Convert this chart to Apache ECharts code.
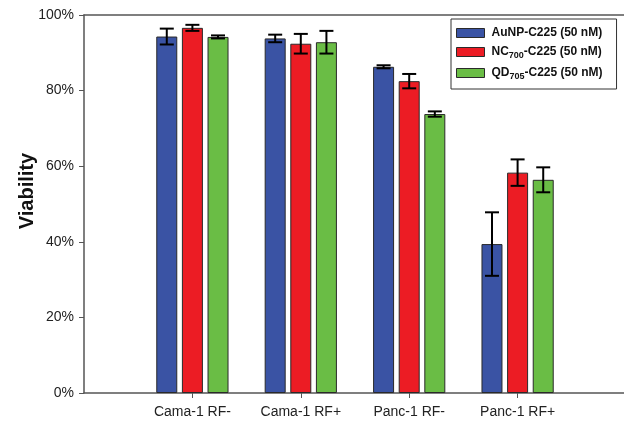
<!DOCTYPE html>
<html><head><meta charset="utf-8">
<script src="https://cdn.jsdelivr.net/npm/echarts@6/dist/echarts.min.js"></script>
<style>html,body{margin:0;padding:0;background:#fff}#c{width:624px;height:424px}</style>
</head><body><div id="c"></div>
<script>
const categories = ['Cama-1 RF-', 'Cama-1 RF+', 'Panc-1 RF-', 'Panc-1 RF+'];
const seriesNames = ['AuNP-C225 (50 nM)', 'NC700-C225 (50 nM)', 'QD705-C225 (50 nM)'];
const aunpValues = [94.3, 93.8, 86.3, 39.4];
const aunpErrors = [2.1, 1.0, 0.4, 8.4];
const ncValues = [96.6, 92.4, 82.5, 58.3];
const ncErrors = [0.8, 2.6, 1.9, 3.5];
const qdValues = [94.2, 92.8, 73.8, 56.4];
const qdErrors = [0.4, 3.0, 0.7, 3.3];
const yTicks = [0, 20, 40, 60, 80, 100];

const colors = ['#3a53a4', '#ec1c24', '#6abd45'];
const BAR_W = 21, GAP_RATIO = 0.22;
const allValues = [aunpValues, ncValues, qdValues];
const allErrors = [aunpErrors, ncErrors, qdErrors];
// axis categories padded with empty slots at both ends
const axisCats = [''].concat(categories, ['']);

const chart = echarts.init(document.getElementById('c'), null, {renderer: 'canvas'});
const series = [];
allValues.forEach((vals, s) => {
  series.push({
    name: seriesNames[s], type: 'bar', barWidth: BAR_W, barGap: (GAP_RATIO * 100) + '%',
    itemStyle: {color: colors[s], borderColor: '#2a2a2a', borderWidth: 1},
    data: [null].concat(vals, [null]), z: 2
  });
});
const errData = [];
allValues.forEach((vals, s) => vals.forEach((v, i) => {
  errData.push([i + 1, v + allErrors[s][i], v - allErrors[s][i], s]);
}));
series.push({
  type: 'custom', name: 'err', z: 5, silent: true,
  renderItem: (params, api) => {
    const s = api.value(3);
    const off = (s - 1) * BAR_W * (1 + GAP_RATIO);
    const hi = api.coord([api.value(0), api.value(1)]);
    const lo = api.coord([api.value(0), api.value(2)]);
    const x = hi[0] + off, cap = 7;
    const st = {stroke: '#000', lineWidth: 2};
    return {type: 'group', children: [
      {type: 'line', shape: {x1: x, y1: hi[1], x2: x, y2: lo[1]}, style: st},
      {type: 'line', shape: {x1: x - cap, y1: hi[1], x2: x + cap, y2: hi[1]}, style: st},
      {type: 'line', shape: {x1: x - cap, y1: lo[1], x2: x + cap, y2: lo[1]}, style: st}
    ]};
  },
  data: errData
});

function legendFmt(name) {
  return name.replace(/^(NC|QD)(\d+)/, (m, a, b) => a + '{sub|' + b + '}');
}

chart.setOption({
  animation: false,
  grid: {left: 84, width: 542, top: 15, bottom: 31, containLabel: false, outerBoundsMode: 'none'},
  legend: {
    data: seriesNames, orient: 'vertical', left: 451, top: 19,
    itemWidth: 28, itemHeight: 9, itemGap: 7,
    padding: [8, 14, 8, 5],
    borderColor: '#333', borderWidth: 1, backgroundColor: '#fff',
    icon: 'rect',
    itemStyle: {borderColor: '#2a2a2a', borderWidth: 1},
    formatter: legendFmt,
    textStyle: {fontFamily: 'Liberation Sans', fontSize: 12, fontWeight: 'bold', color: '#111', padding: [0, 0, 0, 2],
      rich: {sub: {fontFamily: 'Liberation Sans', fontSize: 9, fontWeight: 'bold', color: '#111', padding: [7, 0, 0, 0]}}}
  },
  xAxis: [{
    type: 'category', data: axisCats, boundaryGap: false,
    axisLine: {lineStyle: {color: '#555', width: 1.5}},
    axisTick: {show: true, length: 5, interval: (i) => i > 0 && i < axisCats.length - 1, lineStyle: {color: '#555'}},
    axisLabel: {interval: 0, margin: 12, fontFamily: 'Liberation Sans', fontSize: 14, color: '#222'},
    splitLine: {show: false}
  }, {
    type: 'category', data: axisCats, boundaryGap: false, position: 'top',
    axisLine: {show: true, onZero: false, lineStyle: {color: '#555', width: 1.5}},
    axisTick: {show: false}, axisLabel: {show: false}
  }],
  yAxis: {
    type: 'value', min: yTicks[0], max: yTicks[yTicks.length - 1], interval: 20,
    name: 'Viability', nameLocation: 'middle', nameGap: 47, nameMoveOverlap: false,
    nameTextStyle: {fontFamily: 'Liberation Sans', fontSize: 20, fontWeight: 'bold', color: '#111', padding: [0, 0, 0, 26]},
    axisLine: {show: true, lineStyle: {color: '#555', width: 1.5}},
    axisTick: {show: true, length: 5, inside: false, lineStyle: {color: '#555'}},
    axisLabel: {formatter: '{value}%', margin: 10, fontFamily: 'Liberation Sans', fontSize: 14, color: '#222'},
    splitLine: {show: false}
  },
  series: series
});
</script></body></html>
